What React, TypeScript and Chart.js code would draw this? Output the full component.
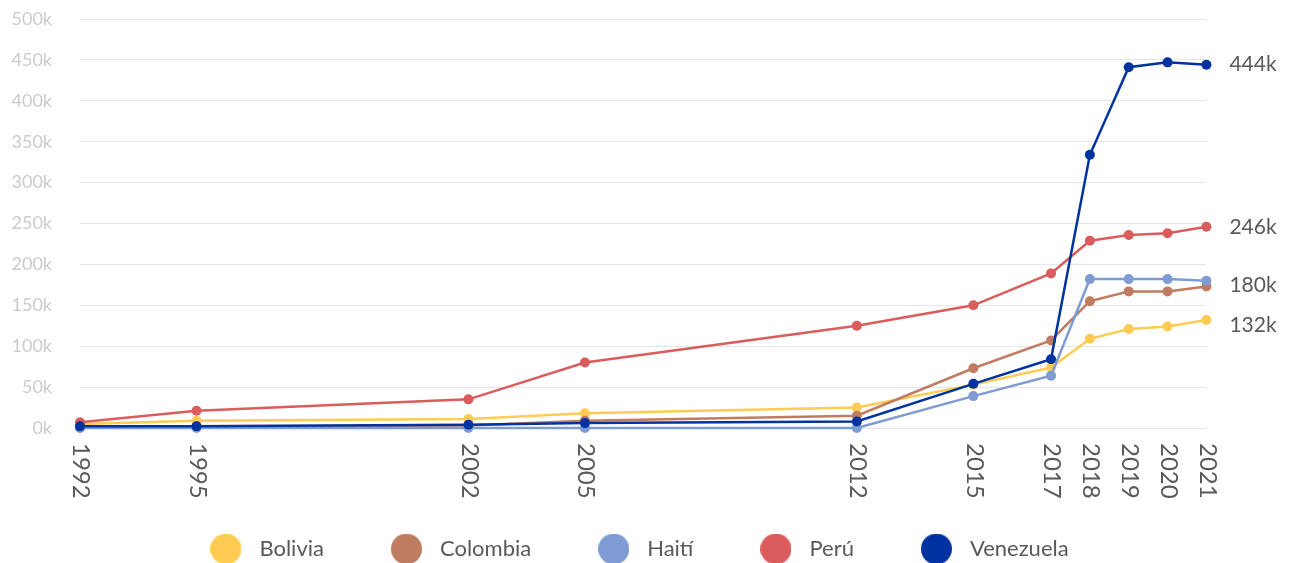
import { useEffect, useRef } from 'react';
import { Chart, registerables } from 'chart.js';

Chart.register(...registerables);

// Years with a reading, placed on a proportional time axis
const years = [1992, 1995, 2002, 2005, 2012, 2015, 2017, 2018, 2019, 2020, 2021];

const countries = ['Bolivia', 'Colombia', 'Haití', 'Perú', 'Venezuela'];

const bolivia = [5000, 9000, 11000, 18000, 25000, 53000, 74000, 109000, 121000, 124000, 132000];
const colombia = [2000, 2000, 3000, 9000, 15000, 73000, 107000, 155000, 167000, 167000, 173000];
const haiti = [0, 0, 0, 0, 0, 39000, 64000, 182000, 182000, 182000, 180000];
const peru = [7000, 21000, 35000, 80000, 125000, 150000, 189000, 229000, 236000, 238000, 246000];
const venezuela = [2000, 2000, 4000, 6000, 8000, 54000, 84000, 334000, 441000, 447000, 444000];

const series = [bolivia, colombia, haiti, peru, venezuela];
const colors = ['#FFCB52', '#C07C60', '#7F9BD3', '#DA5C5C', '#0033A1'];

// Which series get a value tag after their last point, and its vertical nudge
const endLabelShown = [true, false, true, true, true];
const endLabelNudge = [5, 0, 4, 0, -1];

const yMax = 500000;
const yStep = 50000;

const FONT = 'Lato, "Open Sans", sans-serif';
const TEXT = '#595959';

const fmtK = (v: number) => `${Math.round(v / 1000)}k`;

// Year labels under the axis, reading downwards
const yearLabels = {
  id: 'yearLabels',
  afterDraw(chart: any) {
    const { ctx, chartArea, scales } = chart;
    const xs = scales.x;
    ctx.save();
    ctx.fillStyle = TEXT;
    ctx.font = `24px ${FONT}`;
    ctx.textAlign = 'left';
    ctx.textBaseline = 'middle';
    years.forEach((yr) => {
      const px = xs.getPixelForValue(yr);
      ctx.save();
      ctx.translate(px + 1, chartArea.bottom + 15);
      ctx.rotate(Math.PI / 2);
      ctx.fillText(String(yr), 0, 0);
      ctx.restore();
    });
    ctx.restore();
  },
};

// Value tag to the right of each series' final point
const endLabels = {
  id: 'endLabels',
  afterDatasetsDraw(chart: any) {
    const { ctx, chartArea, scales } = chart;
    const ys = scales.y;
    ctx.save();
    ctx.fillStyle = TEXT;
    ctx.font = `21px ${FONT}`;
    ctx.textAlign = 'left';
    ctx.textBaseline = 'middle';
    series.forEach((vals, i) => {
      if (!endLabelShown[i]) return;
      const last = vals[vals.length - 1];
      const py = ys.getPixelForValue(last) + endLabelNudge[i];
      ctx.fillText(fmtK(last), chartArea.right + 23, py);
    });
    ctx.restore();
  },
};

export default function App() {
  const ref = useRef<HTMLCanvasElement>(null);

  useEffect(() => {
    document.documentElement.style.overflow = 'hidden';
    const canvas = ref.current;
    if (!canvas) return;

    // Round legend markers
    const dot = (color: string) => {
      const c = document.createElement('canvas');
      c.width = 31;
      c.height = 31;
      const g = c.getContext('2d')!;
      g.fillStyle = color;
      g.beginPath();
      g.arc(15.5, 15.5, 15.5, 0, Math.PI * 2);
      g.fill();
      return c;
    };
    const dots = colors.map(dot);

    const chart = new Chart(canvas, {
      type: 'line',
      data: {
        datasets: series.map((vals, i) => ({
          label: countries[i],
          data: years.map((yr, j) => ({ x: yr, y: vals[j] })),
          borderColor: colors[i],
          backgroundColor: colors[i],
          pointBackgroundColor: colors[i],
          pointBorderWidth: 0,
          pointRadius: 5,
          pointHoverRadius: 5,
          borderWidth: 2.5,
          tension: 0,
          clip: false as any,
          order: series.length - 1 - i,
        })),
      },
      options: {
        responsive: true,
        maintainAspectRatio: false,
        animation: false,
        layout: { padding: { top: 11, right: 18, left: 0, bottom: 0 } },
        font: { family: FONT } as any,
        plugins: {
          legend: {
            position: 'bottom',
            labels: {
              usePointStyle: true,
              pointStyleWidth: 45,
              boxHeight: 22,
              padding: 60,
              color: TEXT,
              font: { size: 22, family: FONT },
              generateLabels: (c: any) => {
                const items = Chart.defaults.plugins.legend.labels.generateLabels(c);
                return items
                  .map((it: any) => ({ ...it, pointStyle: dots[it.datasetIndex], fontColor: TEXT }))
                  .sort((a: any, b: any) => a.datasetIndex - b.datasetIndex);
              },
            },
          },
          tooltip: { enabled: false },
        },
        scales: {
          x: {
            type: 'linear',
            min: years[0],
            max: years[years.length - 1],
            ticks: { display: false },
            grid: { display: false },
            border: { display: false },
            afterFit: (s: any) => {
              s.height = 50;
            },
          },
          y: {
            min: 0,
            max: yMax,
            ticks: {
              stepSize: yStep,
              padding: 28,
              color: '#cbcbcb',
              font: { size: 18, family: FONT },
              callback: (v: any) => `${Number(v) / 1000}k`,
            },
            grid: { color: '#e6e6e6', drawTicks: false, lineWidth: 1 },
            border: { display: false },
            afterFit: (s: any) => {
              s.width = 72;
              s.paddingTop = 0;
              s.paddingBottom = 0;
            },
          },
          yRight: {
            type: 'linear',
            position: 'right',
            ticks: { display: false },
            grid: { display: false },
            border: { display: false },
            afterFit: (s: any) => {
              s.width = 57.6;
              s.paddingTop = 0;
              s.paddingBottom = 0;
            },
          },
        },
      },
      plugins: [yearLabels, endLabels],
    });

    return () => chart.destroy();
  }, []);

  return (
    <div style={{ width: 1274, height: 562, position: 'relative' }}>
      <canvas ref={ref} />
    </div>
  );
}
